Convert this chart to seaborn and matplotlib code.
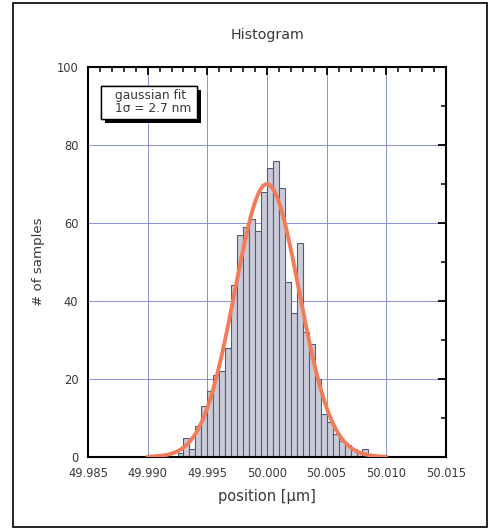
import numpy as np
import pandas as pd
import matplotlib
matplotlib.use("Agg")
import matplotlib.pyplot as plt
import matplotlib.patheffects as pe
from matplotlib.patches import Rectangle
from matplotlib.ticker import MultipleLocator, FormatStrFormatter
import seaborn as sns

# histogram bins (left edges, um) and counts
bin_width = 0.0005
bin_lefts = [49.9925, 49.9930, 49.9935, 49.9940, 49.9945, 49.9950, 49.9955, 49.9960,
             49.9965, 49.9970, 49.9975, 49.9980, 49.9985, 49.9990, 49.9995, 50.0000,
             50.0005, 50.0010, 50.0015, 50.0020, 50.0025, 50.0030, 50.0035, 50.0040,
             50.0045, 50.0050, 50.0055, 50.0060, 50.0065, 50.0070, 50.0075, 50.0080]
counts = [1, 5, 2, 8, 13, 17, 21, 22,
          28, 44, 57, 59, 61, 58, 68, 74,
          76, 69, 45, 37, 55, 32, 29, 20,
          11, 9, 6, 4, 3, 2, 1, 2]

# gaussian fit parameters
fit_mean = 50.0000
fit_sigma = 0.0027
fit_amp = 70

sns.set_theme(style="white")
plt.rcParams["font.family"] = ["DejaVu Sans"]
plt.rcParams["text.color"] = "#383838"

fig = plt.figure(figsize=(4.99, 5.30), dpi=100)
ax = fig.add_axes([88 / 499, 1 - 457 / 530, 358 / 499, 390 / 530])

df = pd.DataFrame({"position": np.array(bin_lefts) + bin_width / 2, "count": counts})
sns.histplot(data=df, x="position", weights="count", binwidth=bin_width,
             binrange=(bin_lefts[0], bin_lefts[-1] + bin_width), ax=ax,
             color="#cacad8", edgecolor="#4e5d7c", linewidth=0.8, alpha=1, zorder=2)

xs = np.linspace(49.990, 50.010, 400)
ys = fit_amp * np.exp(-0.5 * ((xs - fit_mean) / fit_sigma) ** 2)
sns.lineplot(x=xs, y=ys, ax=ax, color="#f27c58", linewidth=2.8, zorder=3)

ax.set_xlim(49.985, 50.015)
ax.set_ylim(0, 100)
ax.xaxis.set_major_locator(MultipleLocator(0.005))
ax.xaxis.set_minor_locator(MultipleLocator(0.001))
ax.xaxis.set_major_formatter(FormatStrFormatter("%.3f"))
ax.yaxis.set_major_locator(MultipleLocator(20))
ax.yaxis.set_minor_locator(MultipleLocator(10))

ax.grid(True, which="major", color="#8890d8", linewidth=0.7, zorder=0)
ax.set_axisbelow(True)
ax.tick_params(which="both", direction="in", top=True, right=True, colors="black",
               labelcolor="#383838", labelsize=8.3, pad=7)
ax.tick_params(which="major", length=6, width=1.3)
ax.tick_params(which="minor", length=3.5, width=1.1)
for sp in ax.spines.values():
    sp.set_color("black")
    sp.set_linewidth(1.5)

ax.set_title("Histogram", fontsize=10.2, pad=20, color="#383838")
ax.set_xlabel("position [µm]", fontsize=10.5, color="#383838")
ax.set_ylabel("# of samples", fontsize=9.6, color="#383838")
ax.xaxis.set_label_coords(0.5, -0.083)
ax.yaxis.set_label_coords(-0.12, 0.5)

# fit annotation box with hard shadow
box = Rectangle((0.037, 0.866), 0.267, 0.085, transform=ax.transAxes,
                facecolor="white", edgecolor="black", linewidth=1.0, zorder=5)
box.set_path_effects([pe.withSimplePatchShadow(offset=(3, -3), shadow_rgbFace="black", alpha=1),
                      pe.Normal()])
ax.add_patch(box)
ax.text(0.076, 0.909, "gaussian fit\n1σ = 2.7 nm", transform=ax.transAxes,
        fontsize=8.8, va="center", ha="left", linespacing=1.0, zorder=6, color="#383838")

# outer frame
fig.patches.append(Rectangle((13 / 499, 1 - 527 / 530), 474 / 499, 524 / 530,
                             transform=fig.transFigure, fill=False,
                             edgecolor="black", linewidth=1.2))

fig.savefig("out.png", dpi=100)
